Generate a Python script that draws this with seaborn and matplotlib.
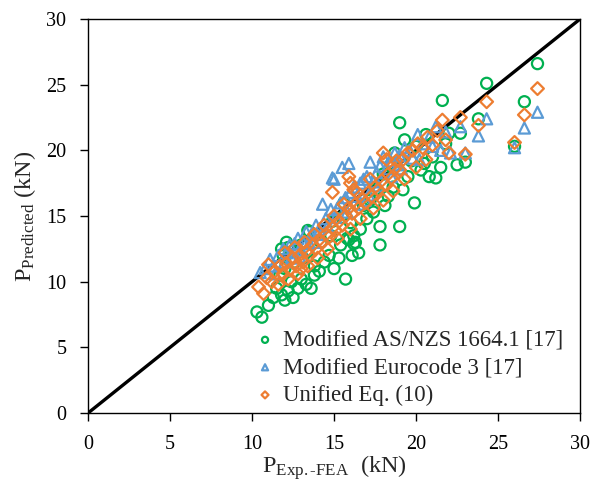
import numpy as np
import pandas as pd
import matplotlib
matplotlib.use("Agg")
import matplotlib.pyplot as plt
import seaborn as sns

# Modified AS/NZS 1664.1 [17]
asnzs_x = [10.3, 10.6, 11.0, 11.3, 11.5, 11.8, 12.0, 12.2, 12.5, 12.4, 12.8, 13.0, 13.3, 13.6, 13.8,
           12.0, 11.7, 11.9, 12.2, 12.1, 11.8, 12.6, 13.1, 13.4, 13.8, 14.1, 14.4, 14.7, 15.0, 15.3,
           15.7, 15.4, 15.8, 16.1, 16.3, 16.5, 16.2, 16.0, 16.6, 17.0, 17.4, 17.8, 17.8, 18.1, 18.3,
           18.6, 19.0, 19.2, 19.5, 19.9, 20.3, 20.5, 20.8, 21.2, 21.0, 21.5, 19.0, 19.3, 18.7, 17.5,
           17.2, 16.8, 15.5, 14.8, 14.2, 13.5, 13.0, 14.9, 15.6, 20.0, 21.6, 22.0, 22.7, 23.0, 23.8,
           24.3, 26.0, 26.6, 27.4, 21.8, 22.5, 20.6, 18.0, 18.5, 19.7, 13.4, 15.9, 16.2]
asnzs_y = [7.7, 7.3, 8.2, 8.8, 9.5, 9.0, 8.6, 9.3, 8.8, 10.0, 9.5, 10.2, 9.8, 9.5, 10.5,
           11.0, 10.5, 12.0, 12.6, 13.0, 12.5, 11.5, 11.8, 12.3, 11.2, 10.8, 11.5, 12.0, 11.0, 11.8,
           10.2, 12.8, 13.3, 12.0, 13.0, 12.2, 13.5, 14.5, 14.0, 14.8, 15.3, 12.8, 14.2, 15.8, 16.5,
           17.2, 14.2, 17.0, 18.0, 16.0, 18.5, 19.0, 18.0, 17.9, 19.5, 18.7, 22.1, 20.8, 19.8, 17.0,
           16.2, 15.8, 14.9, 13.5, 13.0, 13.8, 12.8, 14.6, 16.0, 20.3, 23.8, 21.3, 21.3, 19.1, 22.4,
           25.1, 20.3, 23.7, 26.6, 20.5, 18.9, 21.2, 18.2, 19.0, 19.2, 13.9, 13.2, 12.9]

# Modified Eurocode 3 [17]
ec3_x = [10.5, 10.8, 11.1, 11.3, 11.6, 11.9, 12.1, 12.3, 12.0, 12.6, 12.8, 13.1, 13.3, 13.6, 13.9,
         14.1, 14.3, 14.5, 14.8, 14.9, 15.0, 15.2, 15.4, 15.5, 15.7, 15.9, 16.0, 16.2, 16.4, 16.6,
         16.8, 17.0, 17.2, 17.4, 17.6, 17.8, 18.0, 18.2, 18.4, 18.7, 19.0, 19.3, 19.6, 20.1, 20.4,
         20.8, 21.2, 21.5, 21.8, 22.1, 22.7, 23.0, 23.8, 24.3, 26.0, 26.6, 27.4, 12.4, 13.0, 13.5,
         14.0, 14.6, 15.1, 16.5, 17.1, 17.7, 18.5, 19.1, 11.4, 12.9, 13.8, 15.8, 16.9, 18.9, 19.8,
         20.2, 21.0]
ec3_y = [10.7, 11.0, 11.7, 11.2, 12.0, 12.5, 12.2, 12.8, 11.5, 12.9, 13.3, 13.0, 13.8, 13.5, 14.3,
         14.0, 15.9, 14.8, 15.5, 17.9, 17.8, 15.6, 16.0, 18.7, 16.4, 19.0, 16.8, 17.2, 16.5, 17.5,
         17.8, 18.0, 19.1, 17.6, 18.3, 18.8, 19.5, 18.6, 19.2, 19.8, 19.6, 20.2, 20.0, 21.2, 20.5,
         21.0, 21.8, 20.0, 21.4, 19.8, 21.8, 19.8, 21.1, 22.4, 20.2, 21.7, 22.9, 11.8, 12.4, 12.9,
         13.6, 14.2, 14.9, 15.9, 16.6, 17.3, 18.0, 18.6, 10.6, 11.9, 13.0, 15.3, 16.2, 18.9, 19.4,
         19.3, 20.3]

# Unified Eq. (10)
unified_x = [10.4, 10.7, 10.9, 11.2, 11.4, 11.7, 11.9, 12.1, 12.3, 12.5, 12.7, 12.9, 13.1, 13.3, 13.5,
             13.7, 13.9, 14.1, 14.3, 14.5, 14.7, 14.9, 14.9, 15.1, 15.3, 15.5, 15.7, 15.9, 16.0, 16.2,
             15.9, 16.1, 16.3, 16.5, 16.7, 16.9, 17.1, 17.3, 17.5, 17.7, 17.9, 18.1, 18.3, 18.5, 18.7,
             18.0, 18.2, 19.0, 19.2, 19.5, 19.8, 20.1, 20.4, 20.7, 21.0, 21.3, 21.6, 21.8, 22.0, 22.7,
             23.0, 23.8, 24.3, 26.0, 26.6, 27.4, 11.0, 12.0, 12.6, 13.2, 13.8, 14.4, 15.0, 15.6, 16.4,
             17.2, 18.8, 12.2, 12.8, 13.4, 14.0, 14.6, 15.2, 16.0, 16.6, 17.4, 18.0, 18.6, 19.3, 20.0,
             20.6, 11.6, 13.0]
unified_y = [9.6, 9.1, 10.3, 10.0, 10.8, 11.2, 10.6, 11.4, 10.9, 11.8, 11.2, 12.0, 11.5, 12.3, 12.0,
             12.8, 12.5, 13.2, 13.0, 13.6, 13.4, 14.1, 16.8, 13.9, 14.6, 14.3, 15.0, 18.0, 17.5, 17.0,
             15.6, 15.2, 15.9, 15.6, 16.3, 16.0, 16.8, 16.5, 17.2, 17.0, 17.7, 17.4, 18.2, 17.9, 18.6,
             19.8, 19.3, 18.5, 19.3, 19.8, 20.0, 20.5, 20.2, 21.0, 20.4, 21.5, 22.3, 20.8, 19.8, 22.5,
             19.7, 21.9, 23.7, 20.6, 22.7, 24.7, 11.3, 12.2, 12.6, 13.0, 13.6, 14.3, 15.0, 15.9, 16.8,
             17.8, 19.2, 10.2, 10.6, 11.2, 11.8, 12.5, 13.3, 14.0, 14.8, 15.6, 16.2, 16.9, 17.8, 18.7,
             19.3, 9.8, 11.0]

labels = ["Modified AS/NZS 1664.1 [17]", "Modified Eurocode 3 [17]", "Unified Eq. (10)"]
colors = ["#00B050", "#5B9BD5", "#ED7D31"]
markers = ["o", "^", "D"]

sns.set_style("white")
plt.rcParams["font.family"] = ["Liberation Serif", "DejaVu Serif"]
plt.rcParams["mathtext.fontset"] = "custom"
plt.rcParams["mathtext.rm"] = "Liberation Serif"
plt.rcParams["mathtext.it"] = "Liberation Serif:italic"

fig = plt.figure(figsize=(5.92, 4.86), dpi=100)
ax = fig.add_axes([0.1486, 0.150, 0.8314, 0.811])

ax.plot([0, 30], [0, 30], color="black", lw=2.4, zorder=1)

series = [(asnzs_x, asnzs_y, 8), (ec3_x, ec3_y, 8), (unified_x, unified_y, 6.5)]
for (xs, ys, ms), lab, c, m in zip(series, labels, colors, markers):
    df = pd.DataFrame({"x": xs, "y": ys})
    sns.scatterplot(data=df, x="x", y="y", ax=ax, marker=m, s=ms ** 2,
                    facecolor="none", edgecolor=c, linewidth=1.6, label=lab, zorder=2)

ax.set_xlim(0, 30)
ax.set_ylim(0, 30)
ticks = [0, 5, 10, 15, 20, 25, 30]
ax.set_xticks(ticks)
ax.set_yticks(ticks)
ax.tick_params(axis="both", direction="out", length=5.5, width=1, labelsize=14.5, pad=10,
               bottom=True, left=True, top=False, right=False, colors="black")
for s in ax.spines.values():
    s.set_color("black")
    s.set_linewidth(1)
ax.grid(False)

ax.set_xlabel(r"P$_{\mathrm{Exp.\text{-}FEA}}$  (kN)", fontsize=17.5, labelpad=0)
ax.set_ylabel(r"P$_{\mathrm{Predicted}}$ (kN)", fontsize=17.5, labelpad=6)

leg = ax.legend(loc="lower right", bbox_to_anchor=(0.985, -0.005), frameon=False, fontsize=16.5,
                handletextpad=-0.2, markerscale=0.55, labelspacing=0.28, borderaxespad=0.0)

fig.savefig("out.png", dpi=100)
